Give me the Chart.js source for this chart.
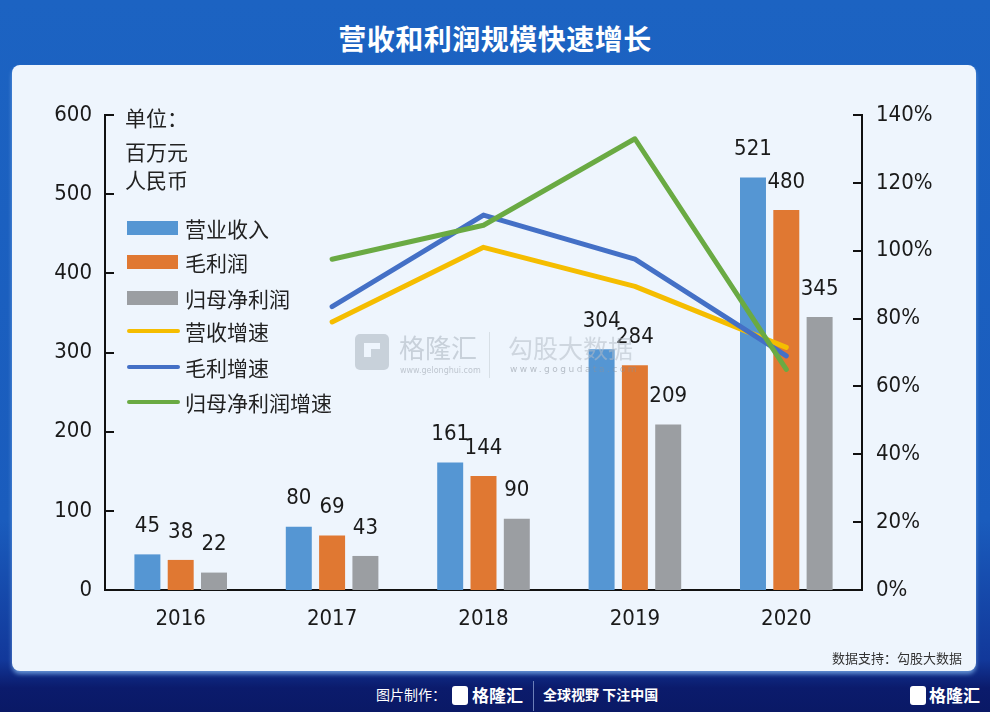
<!DOCTYPE html>
<html>
<head>
<meta charset="utf-8">
<script src="https://cdn.jsdelivr.net/npm/chart.js@4.4.0/dist/chart.umd.min.js"></script>
<style>
  html, body { margin: 0; padding: 0; }
  body {
    width: 990px; height: 712px; overflow: hidden; position: relative;
    background: linear-gradient(180deg, #1c63c2 0px, #1a5cbd 520px, #12389a 660px, #0b1b6c 688px, #0a1966 712px);
    font-family: "Noto Sans CJK SC", "DejaVu Sans", sans-serif;
  }
  #title {
    position: absolute; left: 0; top: 18px; width: 990px; text-align: center;
    color: #fff; font-size: 28px; font-weight: bold; letter-spacing: 0.5px;
  }
  #panel {
    position: absolute; left: 12px; top: 65px; width: 964px; height: 606px;
    background: #eef5fd; border-radius: 8px;
    box-shadow: 0 3px 4px rgba(120,170,230,0.8);
  }
  #chartBox { position: absolute; left: 12px; top: 65px; width: 964px; height: 605px; }
  .unit { position: absolute; left: 125px; font-size: 21px; color: #222; line-height: 1; }
  .lg { position: absolute; left: 127px; height: 30px; width: 260px; }
  .lg .sw { position: absolute; left: 0; width: 51px; }
  .lg .tx { position: absolute; left: 58px; top: 0; font-size: 21px; color: #222; line-height: 30px; white-space: nowrap; }
  #wm { position: absolute; left: 355px; top: 332px; width: 320px; height: 50px; opacity: 0.55; pointer-events: none; white-space: nowrap; }
  #wm div { white-space: nowrap; }
  #source { position: absolute; right: 28px; top: 648px; font-size: 13px; color: #333; }
  #footer { position: absolute; left: 0; top: 684px; width: 990px; height: 24px; color: #fff; white-space: nowrap; }
</style>
</head>
<body>
<div id="title">营收和利润规模快速增长</div>
<div id="panel"></div>
<div id="chartBox"><canvas id="chart" width="964" height="605"></canvas></div>

<div class="unit" style="top:107px">单位：</div>
<div class="unit" style="top:141px">百万元</div>
<div class="unit" style="top:169px">人民币</div>
<div id="legend"></div>

<div id="wm">
  <div style="position:absolute;left:0;top:2px;width:34px;height:36px;border-radius:5px;background:#aab3be;"></div>
  <div style="position:absolute;left:9px;top:11px;width:16px;height:14px;background:#eef5fd;"></div>
  <div style="position:absolute;left:16px;top:17px;width:9px;height:8px;background:#aab3be;"></div>
  <div style="position:absolute;left:44px;top:-4px;font-size:26px;color:#aab3be;">格隆汇</div>
  <div style="position:absolute;left:45px;top:34px;font-size:8px;color:#98a0aa;font-family:'DejaVu Sans';">www.gelonghui.com</div>
  <div style="position:absolute;left:134px;top:0;width:1px;height:46px;background:#c5ccd4;"></div>
  <div style="position:absolute;left:153px;top:-3px;font-size:25px;color:#b4bcc6;">勾股大数据</div>
  <div style="position:absolute;left:155px;top:32px;font-size:9px;color:#8a929c;letter-spacing:2.5px;font-family:'DejaVu Sans';">www.gogudata.com</div>
</div>

<div id="source">数据支持：勾股大数据</div>
<div id="footer">
  <span style="position:absolute;left:376px;top:0;font-size:14px;">图片制作：</span>
  <span style="position:absolute;left:452px;top:2px;width:16px;height:19px;background:#fff;border-radius:3px;"></span>
  <span style="position:absolute;left:472px;top:-2px;font-size:17px;font-weight:bold;">格隆汇</span>
  <span style="position:absolute;left:533px;top:-3px;width:1px;height:30px;background:#6c7fb8;"></span>
  <span style="position:absolute;left:543px;top:0;font-size:14px;font-weight:bold;">全球视野 下注中国</span>
  <span style="position:absolute;left:910px;top:2px;width:16px;height:19px;background:#fff;border-radius:3px;"></span>
  <span style="position:absolute;left:929px;top:-2px;font-size:17px;font-weight:bold;">格隆汇</span>
</div>

<script>
const years = ['2016', '2017', '2018', '2019', '2020'];
const revenue = [45, 80, 161, 304, 521];
const grossProfit = [38, 69, 144, 284, 480];
const netProfit = [22, 43, 90, 209, 345];
const revenueGrowth = [null, 79, 101, 89.5, 71.5];
const grossGrowth = [null, 83.5, 110.5, 97.5, 69];
const netGrowth = [null, 97.5, 107.5, 133, 65];
const leftTicks = [0, 100, 200, 300, 400, 500, 600];
const rightTicks = [0, 20, 40, 60, 80, 100, 120, 140];

const colors = {
    revenue: '#5596d3',
    gross: '#e07832',
    net: '#9b9ea2',
    revG: '#f5bd00',
    grossG: '#4470c6',
    netG: '#6aaa43'
};

const numFont = '"DejaVu Sans Condensed", "DejaVu Sans", sans-serif';

// Custom legend, drawn inside the plot on the left
const legendItems = [
    { label: '营业收入', color: colors.revenue, type: 'bar', y: 213 },
    { label: '毛利润', color: colors.gross, type: 'bar', y: 247 },
    { label: '归母净利润', color: colors.net, type: 'bar', y: 283 },
    { label: '营收增速', color: colors.revG, type: 'line', y: 316 },
    { label: '毛利增速', color: colors.grossG, type: 'line', y: 352 },
    { label: '归母净利润增速', color: colors.netG, type: 'line', y: 387 }
];
const legendBox = document.getElementById('legend');
legendItems.forEach(item => {
    const row = document.createElement('div');
    row.className = 'lg';
    row.style.top = item.y + 'px';
    const sw = document.createElement('div');
    sw.className = 'sw';
    sw.style.background = item.color;
    if (item.type === 'bar') {
        sw.style.top = '8px'; sw.style.height = '14px';
    } else {
        sw.style.top = '13px'; sw.style.height = '4px'; sw.style.borderRadius = '2px'; sw.style.width = '53px';
    }
    const tx = document.createElement('div');
    tx.className = 'tx';
    tx.textContent = item.label;
    row.appendChild(sw);
    row.appendChild(tx);
    legendBox.appendChild(row);
});

// value labels above the bars
const barLabels = {
    id: 'barLabels',
    afterDatasetsDraw(chart) {
        const ctx = chart.ctx;
        ctx.save();
        ctx.font = '22px ' + numFont;
        ctx.fillStyle = '#1a1a1a';
        ctx.textAlign = 'center';
        ctx.textBaseline = 'middle';
        chart.data.datasets.forEach((ds, i) => {
            if (ds.type !== 'bar') return;
            chart.getDatasetMeta(i).data.forEach((bar, j) => {
                ctx.fillText(String(ds.data[j]), bar.x, bar.y - 28);
            });
        });
        ctx.restore();
    }
};

// tick marks pointing into the plot
const innerTicks = {
    id: 'innerTicks',
    afterDraw(chart) {
        const ctx = chart.ctx;
        const y = chart.scales.y, y1 = chart.scales.y1;
        ctx.save();
        ctx.strokeStyle = '#111';
        ctx.lineWidth = 2;
        ctx.beginPath();
        leftTicks.forEach(v => {
            const py = Math.round(y.getPixelForValue(v));
            ctx.moveTo(y.right, py); ctx.lineTo(y.right + 9, py);
        });
        rightTicks.forEach(v => {
            const py = Math.round(y1.getPixelForValue(v));
            ctx.moveTo(y1.left - 9, py); ctx.lineTo(y1.left, py);
        });
        ctx.stroke();
        ctx.restore();
    }
};

const lineStyle = {
    type: 'line', yAxisID: 'y1', borderWidth: 5, pointRadius: 0,
    borderCapStyle: 'round', borderJoinStyle: 'round', tension: 0, spanGaps: false
};

new Chart(document.getElementById('chart').getContext('2d'), {
    data: {
        labels: years,
        datasets: [
            { type: 'bar', label: '营业收入', data: revenue, backgroundColor: colors.revenue, yAxisID: 'y', order: 5 },
            { type: 'bar', label: '毛利润', data: grossProfit, backgroundColor: colors.gross, yAxisID: 'y', order: 5 },
            { type: 'bar', label: '归母净利润', data: netProfit, backgroundColor: colors.net, yAxisID: 'y', order: 5 },
            Object.assign({ label: '营收增速', data: revenueGrowth, borderColor: colors.revG, order: 3 }, lineStyle),
            Object.assign({ label: '毛利增速', data: grossGrowth, borderColor: colors.grossG, order: 2 }, lineStyle),
            Object.assign({ label: '归母净利润增速', data: netGrowth, borderColor: colors.netG, order: 1 }, lineStyle)
        ]
    },
    options: {
        responsive: false,
        animation: false,
        layout: { padding: { top: 50, left: 0, right: 0, bottom: 0 } },
        datasets: { bar: { categoryPercentage: 0.66, barPercentage: 0.78 } },
        plugins: { legend: { display: false }, tooltip: { enabled: false } },
        scales: {
            x: {
                offset: true,
                grid: { display: false, drawTicks: false },
                border: { display: true, color: '#111', width: 2 },
                ticks: { color: '#1a1a1a', font: { family: numFont, size: 22 }, padding: 16 },
                afterFit(s) { s.height = 80; }
            },
            y: {
                position: 'left', min: 0, max: 600,
                afterBuildTicks(s) { s.ticks = leftTicks.map(v => ({ value: v })); },
                grid: { display: false, drawTicks: false },
                border: { display: true, color: '#111', width: 2 },
                ticks: { color: '#1a1a1a', font: { family: numFont, size: 22 }, padding: 13 },
                afterFit(s) { s.width = 93; }
            },
            y1: {
                position: 'right', min: 0, max: 140,
                afterBuildTicks(s) { s.ticks = rightTicks.map(v => ({ value: v })); },
                grid: { display: false, drawTicks: false },
                border: { display: true, color: '#111', width: 2 },
                ticks: { color: '#1a1a1a', font: { family: numFont, size: 22 }, padding: 14, callback: v => v + '%' },
                afterFit(s) { s.width = 114; }
            }
        }
    },
    plugins: [barLabels, innerTicks]
});
</script>
</body>
</html>
